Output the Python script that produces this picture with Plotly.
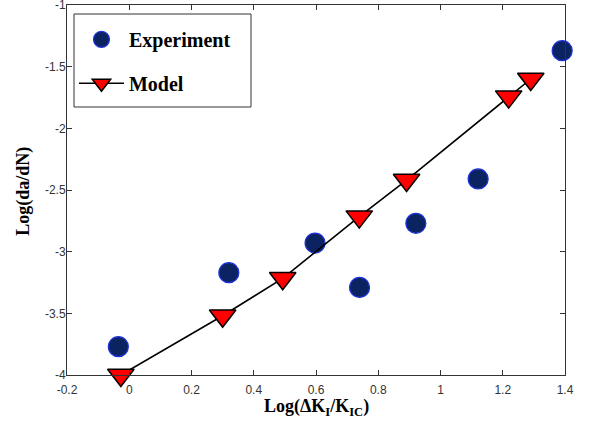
import plotly.graph_objects as go

exp_x = [-0.035, 0.32, 0.597, 0.740, 0.921, 1.121, 1.391]
exp_y = [-3.77, -3.17, -2.93, -3.29, -2.77, -2.41, -1.37]

model_x = [-0.027, 0.30, 0.493, 0.739, 0.891, 1.219, 1.29]
model_y = [-4.0, -3.52, -3.216, -2.716, -2.419, -1.743, -1.60]

x_ticks = [-0.2, 0, 0.2, 0.4, 0.6, 0.8, 1, 1.2, 1.4]
x_ticktext = ["-0.2", "0", "0.2", "0.4", "0.6", "0.8", "1", "1.2", "1.4"]
y_ticks = [-4, -3.5, -3, -2.5, -2, -1.5, -1]
y_ticktext = ["-4", "-3.5", "-3", "-2.5", "-2", "-1.5", "-1"]

x_title = "<b>Log(ΔK<sub>I</sub>/K<sub>IC</sub>)</b>"
y_title = "<b>Log(da/dN)</b>"

serif = "Times New Roman, Liberation Serif, serif"

fig = go.Figure()
fig.add_trace(go.Scatter(
    x=exp_x, y=exp_y, mode="markers", name="<b>Experiment</b>", legendgroup="a",
    marker=dict(symbol="circle", size=20, color="#0b2461",
                line=dict(color="#1d32d8", width=1.2)),
    cliponaxis=False,
))
fig.add_trace(go.Scatter(
    x=model_x, y=model_y, mode="lines+markers", name="<b>Model</b>", legendgroup="b",
    line=dict(color="black", width=1.6),
    marker=dict(symbol="triangle-down", size=23, color="#ff0000",
                line=dict(color="black", width=1.5)),
    cliponaxis=False,
))

axis_common = dict(
    showline=True, linecolor="#333", linewidth=1, mirror="allticks",
    ticks="inside", ticklen=5, tickcolor="#333", showgrid=False, zeroline=False,
    tickfont=dict(family="Arial", size=12, color="#333"),
    automargin=False, ticklabeloverflow="allow",
)
fig.update_xaxes(range=[-0.2, 1.4], tickvals=x_ticks, ticktext=x_ticktext,
                 ticklabelstandoff=4, **axis_common)
fig.update_yaxes(range=[-4, -1], tickvals=y_ticks, ticktext=y_ticktext,
                 ticklabelstandoff=-2, **axis_common)

fig.add_annotation(text=x_title, xref="paper", yref="paper", x=0.5, y=-0.051,
                   xanchor="center", yanchor="top", showarrow=False,
                   font=dict(family=serif, size=18, color="black"))
fig.add_annotation(text=y_title, xref="paper", yref="paper", x=-0.0863, y=0.495,
                   xanchor="center", yanchor="middle", textangle=-90, showarrow=False,
                   font=dict(family=serif, size=18, color="black"))

# legend frame
fig.add_shape(type="rect", xref="paper", yref="paper",
              x0=(74 - 67) / 498, x1=(251 - 67) / 498,
              y0=(375 - 107) / 370, y1=(375 - 14) / 370,
              line=dict(color="#333", width=1), fillcolor="white", layer="below")

fig.update_layout(
    width=591, height=428,
    margin=dict(l=67, r=26, t=5, b=53),
    plot_bgcolor="white", paper_bgcolor="white",
    legend=dict(x=0.014, y=0.96, xanchor="left", yanchor="top",
                borderwidth=0, bgcolor="rgba(0,0,0,0)",
                font=dict(family=serif, size=20, color="black"),
                itemsizing="trace", itemwidth=45, tracegroupgap=15),
    showlegend=True,
)

fig.write_html("out.html", config={"displayModeBar": False},
               post_script="document.body.style.margin='0';")
